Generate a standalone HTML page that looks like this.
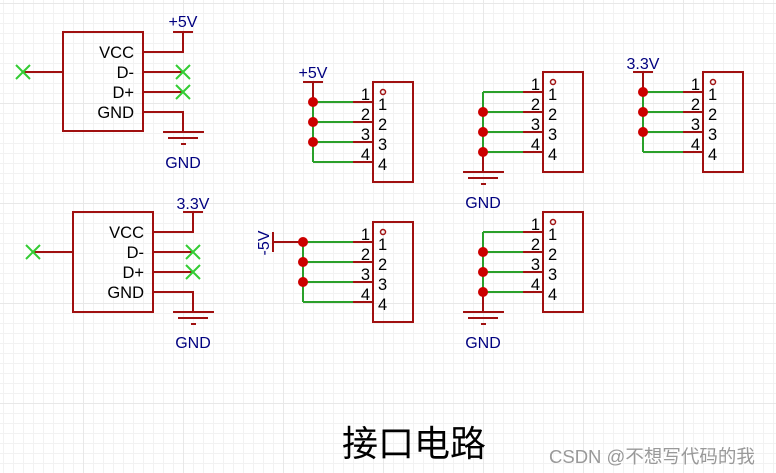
<!DOCTYPE html>
<html><head><meta charset="utf-8"><style>
html,body{margin:0;padding:0;background:#fff;}
svg{display:block;}
text{font-family:"Liberation Sans","Noto Sans CJK SC",sans-serif;}
</style></head><body>
<svg width="776" height="473" viewBox="0 0 776 473" xmlns="http://www.w3.org/2000/svg">
<defs>
<pattern id="g" x="3" y="3" width="10" height="10" patternUnits="userSpaceOnUse">
<path d="M0.5 0V10M0 0.5H10" stroke="#f2f2f2" stroke-width="1" fill="none"/>
</pattern>
<pattern id="G" x="83" y="3" width="100" height="100" patternUnits="userSpaceOnUse">
<path d="M0.5 0V100M0 0.5H100" stroke="#e8e8e8" stroke-width="1" fill="none"/>
</pattern>
</defs>
<rect width="776" height="473" fill="url(#g)"/>
<rect width="776" height="473" fill="url(#G)"/>

<g fill="none" stroke="#a01010" stroke-width="2">
<rect x="63" y="32" width="80" height="99"/>
<path d="M143 52H183V32M173 32H193M143 72H183M143 92H183M143 112H183V132M23 72H63"/>
<path d="M163 132H204M168 138H198M181 144H186"/>
<rect x="73" y="212" width="80" height="100"/>
<path d="M153 232H193V212M183 212H203M153 252H193M153 272H193M153 292H193V312M33 252H73"/>
<path d="M173 312H214M178 318H208M191 324H196"/>
<rect x="373" y="82" width="40" height="100"/>
<rect x="543" y="72" width="40" height="100"/>
<rect x="703" y="72" width="40" height="100"/>
<rect x="373" y="222" width="40" height="100"/>
<rect x="543" y="212" width="40" height="100"/>
<path d="M353 102H373M353 122H373M353 142H373M353 162H373"/>
<path d="M523 92H543M523 112H543M523 132H543M523 152H543"/>
<path d="M683 92H703M683 112H703M683 132H703M683 152H703"/>
<path d="M353 242H373M353 262H373M353 282H373M353 302H373"/>
<path d="M523 232H543M523 252H543M523 272H543M523 292H543"/>
<path d="M303 82H323M313 82V102"/>
<path d="M483 152V172M463 172H504M468 178H498M481 184H486"/>
<path d="M633 72H653M643 72V92"/>
<path d="M273 242H303M273 232V252"/>
<path d="M483 292V312M463 312H504M468 318H498M481 324H486"/>
</g>
<g fill="none" stroke="#a01010" stroke-width="1.5">
<circle cx="383" cy="92" r="2.5"/><circle cx="553" cy="82" r="2.5"/><circle cx="713" cy="82" r="2.5"/>
<circle cx="383" cy="232" r="2.5"/><circle cx="553" cy="222" r="2.5"/>
</g>
<g fill="none" stroke="#2aa02a" stroke-width="2">
<path d="M313 102V162M313 102H353M313 122H353M313 142H353M313 162H353"/>
<path d="M483 92V152M483 92H523M483 112H523M483 132H523M483 152H523"/>
<path d="M643 92V152M643 92H683M643 112H683M643 132H683M643 152H683"/>
<path d="M303 242V302M303 242H353M303 262H353M303 282H353M303 302H353"/>
<path d="M483 232V292M483 232H523M483 252H523M483 272H523M483 292H523"/>
</g>
<g stroke="#33cc33" stroke-width="2">
<path d="M16 65L30 79M30 65L16 79"/>
<path d="M176 65L190 79M190 65L176 79M176 85L190 99M190 85L176 99"/>
<path d="M26 245L40 259M40 245L26 259"/>
<path d="M186 245L200 259M200 245L186 259M186 265L200 279M200 265L186 279"/>
</g>
<g fill="#cc0000">
<circle cx="313" cy="102" r="5"/><circle cx="313" cy="122" r="5"/><circle cx="313" cy="142" r="5"/>
<circle cx="483" cy="112" r="5"/><circle cx="483" cy="132" r="5"/><circle cx="483" cy="152" r="5"/>
<circle cx="643" cy="92" r="5"/><circle cx="643" cy="112" r="5"/><circle cx="643" cy="132" r="5"/>
<circle cx="303" cy="242" r="5"/><circle cx="303" cy="262" r="5"/><circle cx="303" cy="282" r="5"/>
<circle cx="483" cy="252" r="5"/><circle cx="483" cy="272" r="5"/><circle cx="483" cy="292" r="5"/>
</g>

<g font-size="16.5" fill="#000" text-anchor="end">
<text x="134" y="58">VCC</text><text x="134" y="78">D-</text><text x="134" y="98">D+</text><text x="134" y="118">GND</text>
<text x="144" y="238">VCC</text><text x="144" y="258">D-</text><text x="144" y="278">D+</text><text x="144" y="298">GND</text>
</g>
<g font-size="16.5" fill="#000">
<g text-anchor="end">
<text x="370" y="100">1</text><text x="370" y="120">2</text><text x="370" y="140">3</text><text x="370" y="160">4</text>
<text x="540" y="90">1</text><text x="540" y="110">2</text><text x="540" y="130">3</text><text x="540" y="150">4</text>
<text x="700" y="90">1</text><text x="700" y="110">2</text><text x="700" y="130">3</text><text x="700" y="150">4</text>
<text x="370" y="240">1</text><text x="370" y="260">2</text><text x="370" y="280">3</text><text x="370" y="300">4</text>
<text x="540" y="230">1</text><text x="540" y="250">2</text><text x="540" y="270">3</text><text x="540" y="290">4</text>
</g>
<text x="378" y="110">1</text><text x="378" y="130">2</text><text x="378" y="150">3</text><text x="378" y="170">4</text>
<text x="548" y="100">1</text><text x="548" y="120">2</text><text x="548" y="140">3</text><text x="548" y="160">4</text>
<text x="708" y="100">1</text><text x="708" y="120">2</text><text x="708" y="140">3</text><text x="708" y="160">4</text>
<text x="378" y="250">1</text><text x="378" y="270">2</text><text x="378" y="290">3</text><text x="378" y="310">4</text>
<text x="548" y="240">1</text><text x="548" y="260">2</text><text x="548" y="280">3</text><text x="548" y="300">4</text>
</g>
<g font-size="16" fill="#000080" text-anchor="middle">
<text x="183" y="27">+5V</text>
<text x="183" y="168">GND</text>
<text x="193" y="209">3.3V</text>
<text x="193" y="348">GND</text>
<text x="313" y="78">+5V</text>
<text x="483" y="208">GND</text>
<text x="643" y="69">3.3V</text>
<text x="483" y="348">GND</text>
<text transform="translate(269,243) rotate(-90)">-5V</text>
</g>
<text x="342" y="456" font-size="36" fill="#000">接口电路</text>
<text x="549" y="463" font-size="18.5" fill="#999">CSDN @不想写代码的我</text>
</svg>
</body></html>
